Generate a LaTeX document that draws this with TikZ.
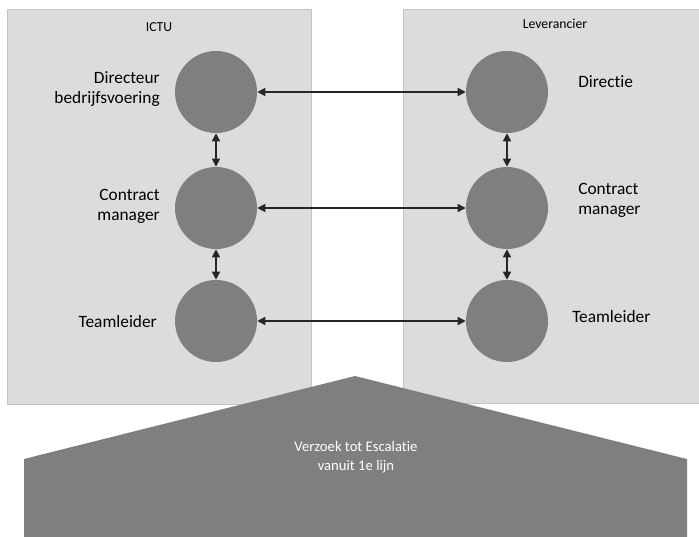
\documentclass[tikz,border=0pt]{standalone}
\usepackage{fontspec}
\setmainfont[Ligatures=NoCommon]{Carlito}
\usetikzlibrary{arrows.meta}
\definecolor{panelfill}{HTML}{DCDCDC}
\definecolor{panelline}{HTML}{C4C4C4}
\definecolor{roleFill}{HTML}{7F7F7F}
\definecolor{linkline}{HTML}{262626}
\tikzset{
  panel/.style={fill=panelfill, draw=panelline, line width=0.75pt},
  role/.style={circle, fill=roleFill, minimum size=61.5pt, inner sep=0pt},
  lbl/.style={font=\fontsize{13}{15}\selectfont, text=black, inner sep=0pt},
  ttl/.style={font=\fontsize{10.3}{12}\selectfont, text=black, inner sep=0pt},
  link/.style={draw=linkline, line width=1.1pt, {Triangle[length=6pt,width=6pt]}-{Triangle[length=6pt,width=6pt]}}
}
\begin{document}
\begin{tikzpicture}[x=0.75pt,y=-0.75pt]
  \useasboundingbox (0,0) rectangle (699,536);
  \fill[white] (0,0) rectangle (699,536);

  % organisation panels
  \draw[panel] (7,9) rectangle (311,404);
  \draw[panel] (403,9) rectangle (705,403);
  \node[ttl] (tICTU) at (159,27) {ICTU};
  \node[ttl] (tLev) at (555,24) {Leverancier};

  % roles on each side
  \node[role] (aTop) at (216,92) {};
  \node[role] (aMid) at (216,208) {};
  \node[role] (aBot) at (216,321) {};
  \node[role] (bTop) at (507,92) {};
  \node[role] (bMid) at (507,208) {};
  \node[role] (bBot) at (507,321) {};

  % role names
  \node[lbl, anchor=east, align=right] (nDir) at (160,89) {Directeur\\bedrijfsvoering};
  \node[lbl, anchor=east, align=right] (nCmA) at (160,206) {Contract\\manager};
  \node[lbl, anchor=east] (nTlA) at (157,322) {Teamleider};
  \node[lbl, anchor=west] (nDie) at (578,82) {Directie};
  \node[lbl, anchor=west, align=left] (nCmB) at (578,200) {Contract\\manager};
  \node[lbl, anchor=west] (nTlB) at (572,317) {Teamleider};

  % communication lines
  \draw[link] (aTop) -- (bTop);
  \draw[link] (aMid) -- (bMid);
  \draw[link] (aBot) -- (bBot);
  \draw[link] (aTop) -- (aMid);
  \draw[link] (aMid) -- (aBot);
  \draw[link] (bTop) -- (bMid);
  \draw[link] (bMid) -- (bBot);

  % escalation arrow
  \fill[roleFill] (355,376) -- (687,459) -- (687,540) -- (24,540) -- (24,459) -- cycle;
  \node[font=\fontsize{11}{14}\selectfont, text=white, align=center, inner sep=0pt] (esc) at (356,457) {Verzoek tot Escalatie\\vanuit 1e lijn};
\end{tikzpicture}
\end{document}
